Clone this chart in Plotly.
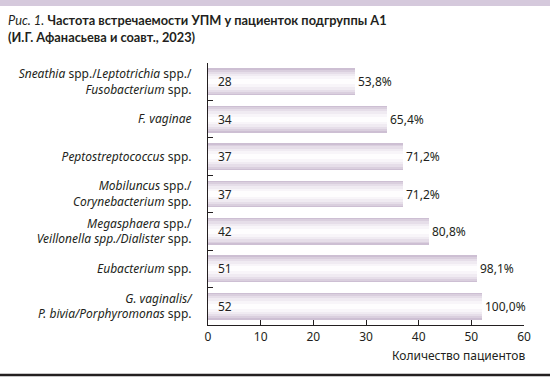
import plotly.graph_objects as go

categories = [
    "<i>Sneathia</i> spp./<i>Leptotrichia</i> spp./<br><i>Fusobacterium</i> spp.",
    "<i>F. vaginae</i>",
    "<i>Peptostreptococcus</i> spp.",
    "<i>Mobiluncus</i> spp./<br><i>Corynebacterium</i> spp.",
    "<i>Megasphaera</i> spp./<br><i>Veillonella spp./Dialister</i> spp.",
    "<i>Eubacterium</i> spp.",
    "<i>G. vaginalis/</i><br><i>P. bivia/Porphyromonas</i> spp.",
]
counts = [28, 34, 37, 37, 42, 51, 52]
percents = ["53,8%", "65,4%", "71,2%", "71,2%", "80,8%", "98,1%", "100,0%"]
x_ticks = [0, 10, 20, 30, 40, 50, 60]

FONT = "Noto Sans"
TFONT = "Lato"
DARK = "#231f20"
W, H = 550, 379
PL, PR, PT, PB = 208, 524, 63, 325  # plot-area pixel bounds

fig = go.Figure()

# gradient-like bars: stacked overlays of decreasing thickness
layers = [(0.72, "#cdbfd3"), (0.64, "#dacfde"), (0.54, "#e6dee9"),
          (0.42, "#f0ebf2"), (0.28, "#f8f5f9"), (0.14, "#fefdfe")]
for i, (w, c) in enumerate(layers):
    fig.add_trace(go.Bar(
        x=counts, y=categories, orientation="h", width=w,
        marker=dict(color=c, line=dict(width=0)),
        text=percents if i == 0 else None,
        textposition="outside" if i == 0 else "none",
        textfont=dict(family=FONT, size=12, color=DARK),
        cliponaxis=False, hoverinfo="skip", showlegend=False,
    ))

for cat, n in zip(categories, counts):
    fig.add_annotation(x=0, y=cat, text=str(n), showarrow=False,
                       xanchor="left", xshift=8,
                       font=dict(family=FONT, size=12, color=DARK))

# axis title at lower right
fig.add_annotation(xref="paper", yref="paper", x=527 / W, y=1 - 355 / H,
                   text="Количество пациентов", showarrow=False,
                   xanchor="right", yanchor="middle",
                   font=dict(family=FONT, size=12, color=DARK))

# chart title
fig.add_annotation(xref="paper", yref="paper", x=6 / W, y=1 - 29 / H,
                   xanchor="left", yanchor="middle", align="left", showarrow=False,
                   text="<i>Рис. 1.</i> <b>Частота встречаемости УПМ у пациенток подгруппы А1<br>(И.Г. Афанасьева и соавт., 2023)</b>",
                   font=dict(family=TFONT, size=12.8, color=DARK))

# decorative top band and bottom rule
fig.add_shape(type="rect", xref="paper", yref="paper",
              x0=-0.01, x1=1.01, y0=1 - 6 / H, y1=1.02,
              fillcolor="#d5c9dc", line=dict(width=0), layer="above")
fig.add_shape(type="line", xref="paper", yref="paper",
              x0=0, x1=1, y0=1 - 375 / H, y1=1 - 375 / H,
              line=dict(color=DARK, width=2.5), layer="above")

fig.update_layout(
    width=W, height=H,
    margin=dict(l=0, r=0, t=0, b=0, pad=0, autoexpand=False),
    paper_bgcolor="white", plot_bgcolor="white",
    barmode="overlay",
    bargap=0,
    xaxis=dict(
        domain=[PL / W, PR / W],
        range=[0, 60], tickvals=x_ticks, ticktext=[str(v) for v in x_ticks],
        showgrid=False, zeroline=False,
        showline=True, linecolor=DARK, linewidth=1.2,
        ticks="inside", ticklen=5, tickcolor=DARK, tickwidth=1.2,
        tickfont=dict(family=FONT, size=12, color=DARK),
        fixedrange=True, automargin=False,
    ),
    yaxis=dict(
        domain=[1 - PB / H, 1 - PT / H],
        autorange="reversed",
        showgrid=False, zeroline=False,
        showline=True, linecolor=DARK, linewidth=1.2,
        ticks="inside", tickson="boundaries", ticklen=5, tickcolor=DARK,
        tickwidth=1.2, ticklabelstandoff=13,
        tickfont=dict(family=FONT, size=12, color=DARK),
        fixedrange=True, automargin=False,
    ),
    font=dict(family=FONT, color=DARK),
)

fig.write_html("out.html", config={"displayModeBar": False},
               post_script="document.body.style.margin='0';document.body.style.padding='0';")
